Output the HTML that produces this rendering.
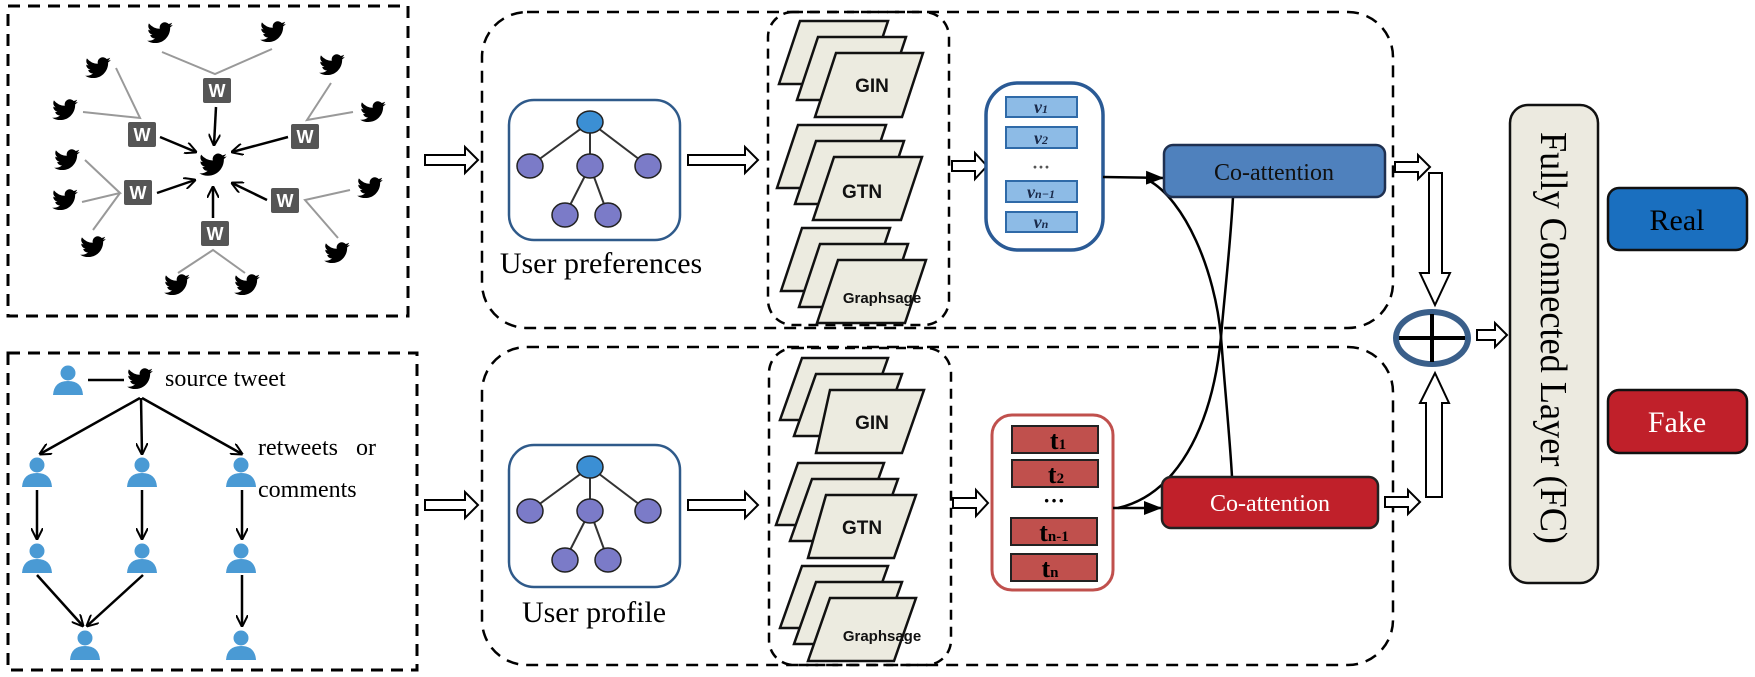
<!DOCTYPE html>
<html><head><meta charset="utf-8"><style>html,body{margin:0;padding:0;background:#fff}svg{display:block}</style></head>
<body>
<svg width="1755" height="677" viewBox="0 0 1755 677" xmlns="http://www.w3.org/2000/svg" font-family="'Liberation Serif', serif">
<defs>
<symbol id="bird" viewBox="0 0 24 24"><path fill="#000" d="M23 5c-.8.4-1.7.6-2.6.7.9-.6 1.6-1.4 2-2.5-.9.5-1.9.9-2.9 1.1A4.5 4.5 0 0 0 11.8 8.4 12.8 12.8 0 0 1 2.5 3.7a4.5 4.5 0 0 0 1.4 6 4.5 4.5 0 0 1-2-.6 4.5 4.5 0 0 0 3.6 4.4 4.5 4.5 0 0 1-2 .1 4.5 4.5 0 0 0 4.2 3.1A9 9 0 0 1 1 18.6 12.8 12.8 0 0 0 7.9 20.6c8.3 0 12.8-6.9 12.8-12.8v-.6c.9-.6 1.6-1.4 2.3-2.2z"/></symbol>
<symbol id="person" viewBox="0 0 32 32"><circle cx="16" cy="9" r="7.5" fill="#4a9ad4"/><path d="M1 31 Q2 17 16 17 Q30 17 31 31 Z" fill="#4a9ad4"/></symbol>
<marker id="ah" markerWidth="12" markerHeight="12" refX="11" refY="6" orient="auto" markerUnits="userSpaceOnUse"><path d="M0,0 L12,6 L0,12" fill="none" stroke="#000" stroke-width="2"/></marker>
<marker id="fh" markerWidth="18" markerHeight="14" refX="18" refY="7" orient="auto" markerUnits="userSpaceOnUse"><path d="M0,0 L18,7 L0,14 Z" fill="#000"/></marker>
</defs>

<rect x="8" y="6" width="400" height="310" fill="none" stroke="#000" stroke-width="3" stroke-dasharray="12,8"/>
<g stroke="#999" stroke-width="2" fill="none">
<path d="M162,52 L215,74 L272,49"/><path d="M116,68 L140,118 L83,112"/><path d="M331,83 L307,120 L353,112"/>
<path d="M85,160 L120,193 L82,202 M120,193 L93,230"/><path d="M350,190 L305,200 L338,238"/><path d="M178,273 L213,250 L245,273"/>
</g>
<g stroke="#000" stroke-width="2.5" marker-end="url(#ah)">
<line x1="216" y1="107" x2="214" y2="145"/><line x1="160" y1="137" x2="196" y2="152"/><line x1="288" y1="137" x2="232" y2="152"/>
<line x1="157" y1="193" x2="195" y2="180"/><line x1="267" y1="200" x2="232" y2="183"/><line x1="213" y1="218" x2="213" y2="187"/>
</g>
<g>
<use href="#bird" x="146" y="19" width="28" height="28"/><use href="#bird" x="259" y="18" width="28" height="28"/>
<use href="#bird" x="84" y="54" width="28" height="28"/><use href="#bird" x="318" y="51" width="28" height="28"/>
<use href="#bird" x="51" y="96" width="28" height="28"/><use href="#bird" x="359" y="98" width="28" height="28"/>
<use href="#bird" x="53" y="146" width="28" height="28"/><use href="#bird" x="51" y="186" width="28" height="28"/>
<use href="#bird" x="356" y="174" width="28" height="28"/><use href="#bird" x="79" y="233" width="28" height="28"/>
<use href="#bird" x="323" y="239" width="28" height="28"/><use href="#bird" x="163" y="271" width="28" height="28"/>
<use href="#bird" x="233" y="271" width="28" height="28"/><use href="#bird" x="198" y="150" width="30" height="30"/>
</g>
<g font-family="'Liberation Sans', sans-serif" font-weight="bold" font-size="18" fill="#fff" text-anchor="middle">
<rect x="203" y="78" width="28" height="25" rx="2" fill="#555"/><text x="217" y="97">W</text>
<rect x="128" y="122" width="28" height="25" rx="2" fill="#555"/><text x="142" y="141">W</text>
<rect x="291" y="124" width="28" height="25" rx="2" fill="#555"/><text x="305" y="143">W</text>
<rect x="124" y="180" width="28" height="25" rx="2" fill="#555"/><text x="138" y="199">W</text>
<rect x="271" y="188" width="28" height="25" rx="2" fill="#555"/><text x="285" y="207">W</text>
<rect x="201" y="221" width="28" height="25" rx="2" fill="#555"/><text x="215" y="240">W</text>
</g>

<rect x="8" y="353" width="409" height="317" fill="none" stroke="#000" stroke-width="3" stroke-dasharray="12,8"/>
<use href="#person" x="52" y="364" width="32" height="32"/>
<line x1="88" y1="380" x2="124" y2="380" stroke="#000" stroke-width="2.5"/>
<use href="#bird" x="126" y="365" width="28" height="28"/>
<text x="165" y="386" font-size="24">source tweet</text>
<text x="258" y="455" font-size="24" xml:space="preserve">retweets   or</text>
<text x="258" y="497" font-size="24">comments</text>
<g stroke="#000" stroke-width="2.5" marker-end="url(#ah)">
<line x1="140" y1="398" x2="40" y2="454"/><line x1="141" y1="398" x2="142" y2="454"/><line x1="142" y1="398" x2="242" y2="454"/>
<line x1="37" y1="490" x2="37" y2="539"/><line x1="142" y1="490" x2="142" y2="539"/><line x1="242" y1="490" x2="242" y2="539"/>
<line x1="37" y1="575" x2="83" y2="626"/><line x1="143" y1="575" x2="87" y2="626"/><line x1="242" y1="575" x2="242" y2="626"/>
</g>
<use href="#person" x="21" y="456" width="32" height="32"/><use href="#person" x="126" y="456" width="32" height="32"/><use href="#person" x="225" y="456" width="32" height="32"/>
<use href="#person" x="21" y="542" width="32" height="32"/><use href="#person" x="126" y="542" width="32" height="32"/><use href="#person" x="225" y="542" width="32" height="32"/>
<use href="#person" x="69" y="629" width="32" height="32"/><use href="#person" x="225" y="629" width="32" height="32"/>

<rect x="482" y="12" width="911" height="316" rx="45" fill="none" stroke="#000" stroke-width="2.5" stroke-dasharray="12,8"/>
<rect x="482" y="347" width="911" height="318" rx="45" fill="none" stroke="#000" stroke-width="2.5" stroke-dasharray="12,8"/>
<rect x="768" y="12" width="181" height="313" rx="25" fill="none" stroke="#000" stroke-width="2.5" stroke-dasharray="10,7"/>
<rect x="769" y="348" width="182" height="317" rx="25" fill="none" stroke="#000" stroke-width="2.5" stroke-dasharray="10,7"/>

<g fill="#fff" stroke="#000" stroke-width="2">
<path d="M425,155 h40 v-8 l13,13 l-13,13 v-8 h-40 z"/>
<path d="M425,500 h40 v-8 l13,13 l-13,13 v-8 h-40 z"/>
<path d="M688,155 h57 v-8 l13,13 l-13,13 v-8 h-57 z"/>
<path d="M688,500 h57 v-8 l13,13 l-13,13 v-8 h-57 z"/>
<path d="M952,161 h23 v-8 l12,13 l-12,13 v-8 h-23 z"/>
<path d="M953,498 h23 v-8 l12,13 l-12,13 v-8 h-23 z"/>
<path d="M1395,162 h23 v-7 l12,12 l-12,12 v-7 h-23 z"/>
<path d="M1385,497 h23 v-7 l12,12 l-12,12 v-7 h-23 z"/>
<path d="M1477,330 h18 v-7 l12,12 l-12,12 v-7 h-18 z"/>
<path d="M1429,173 h13 v100 h8 l-15,32 l-15,-32 h9 z"/>
<path d="M1426,497 h16 v-94 h7 l-14,-30 l-15,30 h6 z"/>
</g>

<g>
<rect x="509" y="100" width="171" height="140" rx="25" fill="#fff" stroke="#2f5a8a" stroke-width="2.5"/>
<g stroke="#333" stroke-width="2"><line x1="590" y1="122" x2="530" y2="166"/><line x1="590" y1="122" x2="590" y2="166"/><line x1="590" y1="122" x2="648" y2="166"/><line x1="590" y1="166" x2="565" y2="215"/><line x1="590" y1="166" x2="608" y2="215"/></g>
<g stroke="#222" stroke-width="1.5" fill="#7b7bc8"><ellipse cx="590" cy="122" rx="13" ry="11" fill="#3b8fd4"/><ellipse cx="530" cy="166" rx="13" ry="12"/><ellipse cx="590" cy="166" rx="13" ry="12"/><ellipse cx="648" cy="166" rx="13" ry="12"/><ellipse cx="565" cy="215" rx="13" ry="12"/><ellipse cx="608" cy="215" rx="13" ry="12"/></g>
<text x="601" y="273" font-size="30" text-anchor="middle">User preferences</text>
</g>
<g transform="translate(0,345)">
<rect x="509" y="100" width="171" height="142" rx="25" fill="#fff" stroke="#2f5a8a" stroke-width="2.5"/>
<g stroke="#333" stroke-width="2"><line x1="590" y1="122" x2="530" y2="166"/><line x1="590" y1="122" x2="590" y2="166"/><line x1="590" y1="122" x2="648" y2="166"/><line x1="590" y1="166" x2="565" y2="215"/><line x1="590" y1="166" x2="608" y2="215"/></g>
<g stroke="#222" stroke-width="1.5" fill="#7b7bc8"><ellipse cx="590" cy="122" rx="13" ry="11" fill="#3b8fd4"/><ellipse cx="530" cy="166" rx="13" ry="12"/><ellipse cx="590" cy="166" rx="13" ry="12"/><ellipse cx="648" cy="166" rx="13" ry="12"/><ellipse cx="565" cy="215" rx="13" ry="12"/><ellipse cx="608" cy="215" rx="13" ry="12"/></g>
<text x="594" y="277" font-size="30" text-anchor="middle">User profile</text>
</g>

<g fill="#ecebe0" stroke="#111" stroke-width="2.5" stroke-linejoin="miter">
<path d="M800,21 h88 l-21,63 h-88 z"/><path d="M818,37 h88 l-21,63 h-88 z"/><path d="M836,53 h87 l-21,64 h-87 z"/>
<path d="M798,125 h88 l-21,63 h-88 z"/><path d="M816,141 h88 l-21,63 h-88 z"/><path d="M834,157 h88 l-21,63 h-88 z"/>
<path d="M802,228 h88 l-21,63 h-88 z"/><path d="M820,244 h88 l-21,63 h-88 z"/><path d="M838,260 h88 l-21,63 h-88 z"/>
<path d="M802,358 h86 l-22,62 h-86 z"/><path d="M816,374 h86 l-22,62 h-86 z"/><path d="M830,390 h94 l-22,63 h-86 z"/>
<path d="M798,463 h86 l-22,62 h-86 z"/><path d="M812,479 h86 l-22,62 h-86 z"/><path d="M826,495 h90 l-22,63 h-86 z"/>
<path d="M802,566 h86 l-22,62 h-86 z"/><path d="M816,582 h86 l-22,62 h-86 z"/><path d="M830,598 h86 l-22,63 h-86 z"/>
</g>
<g font-family="'Liberation Sans', sans-serif" font-weight="bold" fill="#111" text-anchor="middle">
<text x="872" y="92" font-size="19">GIN</text><text x="862" y="198" font-size="19">GTN</text><text x="882" y="303" font-size="15">Graphsage</text>
<text x="872" y="429" font-size="19">GIN</text><text x="862" y="534" font-size="19">GTN</text><text x="882" y="641" font-size="15">Graphsage</text>
</g>

<rect x="986" y="83" width="117" height="167" rx="32" fill="#fff" stroke="#2a5a95" stroke-width="3.5"/>
<g fill="#8dbbe6" stroke="#2f6aa8" stroke-width="2">
<rect x="1006" y="97" width="71" height="20"/><rect x="1006" y="127" width="71" height="21"/><rect x="1006" y="181" width="71" height="21"/><rect x="1006" y="212" width="71" height="20"/>
</g>
<g font-style="italic" font-weight="bold" fill="#1a2a4a" font-size="18" text-anchor="middle">
<text x="1041" y="113">v<tspan font-size="12">1</tspan></text><text x="1041" y="144">v<tspan font-size="12">2</tspan></text>
<text x="1041" y="173" font-style="normal" fill="#555">···</text>
<text x="1041" y="198">v<tspan font-size="12">n−1</tspan></text><text x="1041" y="228">v<tspan font-size="12">n</tspan></text>
</g>

<rect x="992" y="415" width="121" height="175" rx="20" fill="#fff" stroke="#c0504d" stroke-width="3"/>
<g fill="#c0504d" stroke="#222" stroke-width="2">
<rect x="1012" y="426" width="86" height="27"/><rect x="1012" y="460" width="86" height="27"/><rect x="1011" y="518" width="86" height="27"/><rect x="1011" y="554" width="86" height="27"/>
</g>
<g font-weight="bold" fill="#000" font-size="26" text-anchor="middle">
<text x="1058" y="449">t<tspan font-size="15">1</tspan></text><text x="1056" y="483">t<tspan font-size="15">2</tspan></text>
<text x="1054" y="508" font-size="22">···</text>
<text x="1054" y="541">t<tspan font-size="15">n-1</tspan></text><text x="1050" y="577">t<tspan font-size="15">n</tspan></text>
</g>

<g fill="none" stroke="#000" stroke-width="2.5">
<path d="M1103,177 L1164,178" marker-end="url(#fh)"/>
<path d="M1113,508 L1162,508" marker-end="url(#fh)"/>
<path d="M1148,180 C1185,200 1215,270 1221,337 C1225,390 1230,440 1232,477"/>
<path d="M1233,197 C1230,250 1224,300 1221,337 C1212,430 1175,495 1118,508"/>
</g>

<rect x="1164" y="145" width="221" height="52" rx="9" fill="#4f81bd" stroke="#1f3050" stroke-width="2.5"/>
<text x="1274" y="180" font-size="24" text-anchor="middle" fill="#111">Co-attention</text>
<rect x="1162" y="477" width="216" height="51" rx="9" fill="#c0202a" stroke="#222" stroke-width="2.5"/>
<text x="1270" y="511" font-size="24" text-anchor="middle" fill="#fff">Co-attention</text>

<ellipse cx="1432" cy="338" rx="36" ry="26" fill="#fff" stroke="#3a5f8a" stroke-width="6"/>
<line x1="1399" y1="338" x2="1465" y2="338" stroke="#000" stroke-width="4"/>
<line x1="1432" y1="314" x2="1432" y2="362" stroke="#000" stroke-width="4"/>

<rect x="1510" y="105" width="88" height="478" rx="18" fill="#eceae0" stroke="#111" stroke-width="2.5"/>
<text transform="translate(1541,338) rotate(90)" font-size="38" text-anchor="middle" textLength="412" lengthAdjust="spacingAndGlyphs">Fully Connected Layer (FC)</text>

<rect x="1608" y="188" width="139" height="62" rx="11" fill="#1a6fbf" stroke="#111" stroke-width="2.5"/>
<text x="1677" y="230" font-size="30" text-anchor="middle" fill="#000">Real</text>
<rect x="1608" y="390" width="139" height="63" rx="11" fill="#c0202a" stroke="#111" stroke-width="2.5"/>
<text x="1677" y="432" font-size="30" text-anchor="middle" fill="#fff">Fake</text>
</svg>
</body></html>
